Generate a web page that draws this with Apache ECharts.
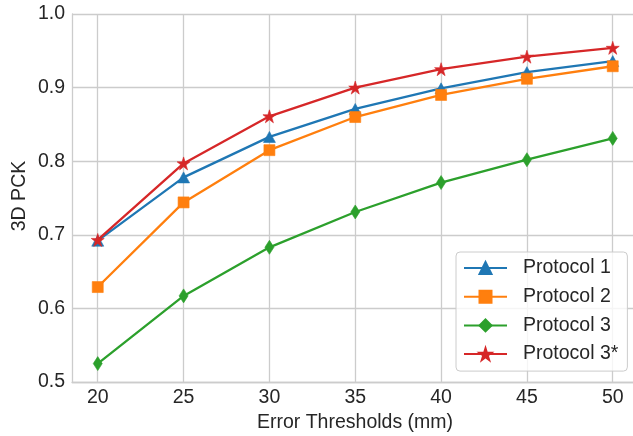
<!DOCTYPE html>
<html>
<head>
<meta charset="utf-8">
<script src="https://cdn.jsdelivr.net/npm/echarts@6/dist/echarts.min.js"></script>
<style>
html,body{margin:0;padding:0;background:#fff;}
#chart{width:633px;height:436px;}
</style>
</head>
<body>
<div id="chart"></div>
<script>
const thresholds = [20, 25, 30, 35, 40, 45, 50];
const protocol1 = [0.692, 0.778, 0.833, 0.871, 0.899, 0.921, 0.936];
const protocol2 = [0.629, 0.744, 0.815, 0.860, 0.890, 0.912, 0.929];
const protocol3 = [0.525, 0.617, 0.683, 0.731, 0.771, 0.802, 0.831];
const protocol3s = [0.693, 0.797, 0.861, 0.900, 0.925, 0.942, 0.954];
const seriesNames = ['Protocol 1', 'Protocol 2', 'Protocol 3', 'Protocol 3*'];
const xLabel = 'Error Thresholds (mm)';
const yLabel = '3D PCK';

const FONT = "'Liberation Sans', Arial, sans-serif";
const TXT = '#262626';
const GRIDC = '#cccccc';
const STAR = 'path://M50,0 L61.2,34.5 L97.6,34.5 L68.2,55.9 L79.4,90.5 L50,69.1 L20.6,90.5 L31.8,55.9 L2.4,34.5 L38.8,34.5 Z';

function pairs(vals) { return thresholds.map((t, i) => [t, vals[i]]); }

const colors = ['#1f77b4', '#ff7f0e', '#2ca02c', '#d62728'];
const symbols = ['triangle', 'rect', 'diamond', STAR];
const sizes = [[12, 11], 11, [9, 14], 13];
const values = [protocol1, protocol2, protocol3, protocol3s];

const chart = echarts.init(document.getElementById('chart'), null, {renderer: 'canvas'});
chart.setOption({
  animation: false,
  backgroundColor: '#ffffff',
  textStyle: {fontFamily: FONT},
  grid: {left: 72, top: 14, right: 0, bottom: 54, containLabel: false},
  xAxis: {
    type: 'value', min: 18.5, max: 51.18,
    axisLine: {show: true, lineStyle: {color: GRIDC, width: 1.3}},
    axisTick: {show: false, customValues: thresholds},
    axisLabel: {customValues: thresholds, color: TXT, fontSize: 19.5, fontFamily: FONT, margin: 6},
    splitLine: {show: true, lineStyle: {color: GRIDC, width: 1.3}}
  },
  yAxis: {
    type: 'value', min: 0.5, max: 1.0, interval: 0.1,
    axisLine: {show: true, lineStyle: {color: GRIDC, width: 1.3}},
    axisTick: {show: false},
    axisLabel: {color: TXT, fontSize: 19.5, fontFamily: FONT, margin: 7,
      formatter: v => v.toFixed(1)},
    splitLine: {show: true, lineStyle: {color: GRIDC, width: 1.3}}
  },
  legend: {
    orient: 'vertical', left: 456, top: 252,
    data: seriesNames,
    backgroundColor: 'rgba(255,255,255,0.8)',
    borderColor: GRIDC, borderWidth: 1, borderRadius: 4,
    padding: [6, 9, 7, 7],
    itemWidth: 43, itemHeight: 15, itemGap: 8.7,
    textStyle: {color: TXT, fontSize: 19.5, fontFamily: FONT, lineHeight: 20, padding: [0, 0, 0, 11]}
  },
  graphic: [
    {type: 'text', x: 355, y: 423,
     style: {text: xLabel, fill: TXT, font: "19.5px " + FONT, align: 'center', verticalAlign: 'middle'}},
    {type: 'text', x: 20, y: 196, rotation: Math.PI / 2,
     style: {text: yLabel, fill: TXT, font: "19.5px " + FONT, align: 'center', verticalAlign: 'middle'}}
  ],
  series: values.map((v, i) => ({
    name: seriesNames[i], type: 'line',
    data: pairs(v),
    symbol: symbols[i], symbolSize: sizes[i], showAllSymbol: true,
    lineStyle: {color: colors[i], width: 2.3},
    itemStyle: {color: colors[i], borderColor: colors[i], borderWidth: 0.6},
    emphasis: {disabled: true},
    z: 2 + i
  }))
});
</script>
</body>
</html>
